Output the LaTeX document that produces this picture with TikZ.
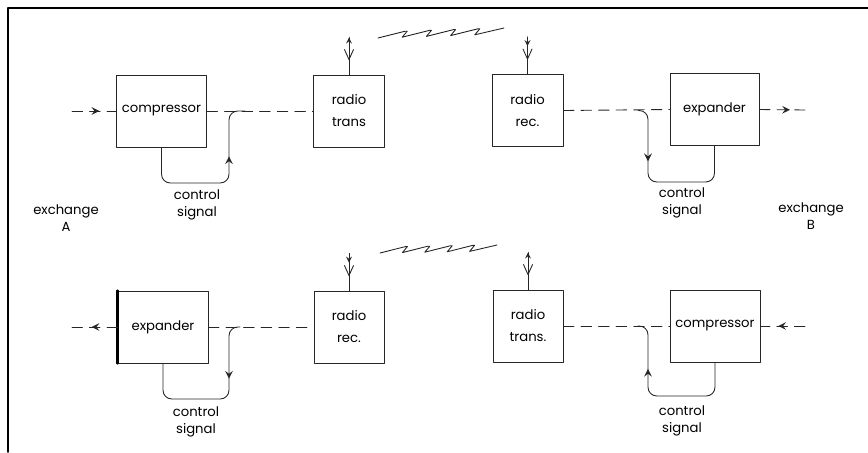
\documentclass[tikz,border=0pt]{standalone}
\usepackage{fontspec}
\newfontfamily\diafont{Poppins}
\usetikzlibrary{decorations.markings}
\tikzset{
	blk/.style={draw,inner sep=0pt,minimum height=14.4mm,align=center,font=\diafont\fontsize{7.5}{12.5}\selectfont},
	lbl/.style={align=center,font=\diafont\fontsize{7.5}{10}\selectfont},
	sig/.style={dash pattern=on 6pt off 4pt},
	midarrow/.style={postaction=decorate,decoration={markings,mark=at position #1 with {\arrow[scale=1.3]{stealth}}}},
}
\begin{document}
\begin{tikzpicture}[x=0.2mm,y=-0.2mm,>=stealth,line join=round,line cap=round,line width=0.5pt,draw=black!85]
				\useasboundingbox (0,0) rectangle (868,452);
				\draw[line width=1.1pt,black] (8,452)--(8,8)--(868,8);
				\node[blk,minimum width=18mm] (comA) at (161.5,111) {compressor};
				\node[blk,minimum width=14.2mm] (txA) at (349,111) {radio\\trans};
				\node[blk,minimum width=14.2mm] (rxB) at (527.5,110.5) {radio\\rec.};
				\node[blk,minimum width=17.8mm] (expB) at (714.5,109.5) {expander};
				\node[blk,minimum width=18mm] (expA) at (163,327) {expander};
				\node[blk,minimum width=14mm] (rxA) at (349,327) {radio\\rec.};
				\node[blk,minimum width=14mm] (txB) at (528,326) {radio\\trans.};
				\node[blk,minimum width=18mm] (comB) at (715,326) {compressor};
				\draw[line width=1.4pt,black] (expA.north west)--(expA.south west);
				\path
				(72,111) coordinate (inA)
				(805,110) coordinate (outB)
				(72,327) coordinate (outA)
				(805,326) coordinate (inB)
				(229,111) coordinate (jA) (245,111) coordinate (jAe) (229,183) coordinate (cA)
				(648,110.5) coordinate (jB) (638,110.5) coordinate (jBe) (648,182) coordinate (cB)
				(229,327) coordinate (jC) (240,327) coordinate (jCe) (229,399) coordinate (cC)
				(648,326) coordinate (jD) (638,326) coordinate (jDe) (648,396) coordinate (cD)
				(378,38) coordinate (zzA) (504,28) coordinate (zzB)
				(380,253) coordinate (zzC) (497,245) coordinate (zzD)
				;
				\draw[sig,midarrow=0.62] (inA)--(comA.west);
				\draw[sig] (comA.east)--(txA.west);
				\draw[sig] (rxB.east)--(expB.west);
				\draw[sig,midarrow=0.67] (expB.east)--(outB);
				\draw[sig,midarrow=0.57] (expA.west)--(outA);
				\draw[sig] (expA.east)--(rxA.west);
				\draw[sig] (txB.east)--(comB.west);
				\draw[sig,midarrow=0.6] (inB)--(comB.east);
				\draw[rounded corners=5pt,midarrow=0.68] (comA.south)|-(cA)--(jA)--(jAe);
				\draw[rounded corners=5pt,midarrow=0.33] (jBe)--(jB)--(cB)-|(expB.south);
				\draw[rounded corners=5pt,midarrow=0.34] (jCe)--(jC)--(cC)-|(expA.south);
				\draw[rounded corners=5pt,midarrow=0.71] (comB.south)|-(cD)--(jD)--(jDe);
				\foreach \b in {txA,rxB,rxA,txB}{
					\draw (\b.north)--++(0,-37) coordinate (\b-ant);
					\draw (\b-ant) ++(-4.5,12)--++(4.5,10)--++(4.5,-10);
				}
				\draw[-{stealth[scale=1.3]}] (txA.north)--(txA-ant);
				\draw[-{stealth[scale=1.3]}] (txB.north)--(txB-ant);
				\draw[-{stealth[scale=1.3]}] (rxB-ant)--++(0,9);
				\draw[-{stealth[scale=1.3]}] (rxA-ant)--++(0,9);
				\draw (zzA) \foreach \i in {1,...,4}{--++(27.2,-6.8)--++(2,0)--++(-5,6)}--(zzB);
				\draw (zzC) \foreach \i in {1,...,4}{--++(25.4,-6.4)--++(2,0)--++(-5,6)}--(zzD);
				\node[lbl] (csA) at (197,205) {control\\signal};
				\node[lbl] (csB) at (682,203) {control\\signal};
				\node[lbl] (csC) at (196,422) {control\\signal};
				\node[lbl] (csD) at (682,421) {control\\signal};
				\node[lbl] (exA) at (66,218) {exchange\\A};
				\node[lbl] (exB) at (811,216) {exchange\\B};
			\end{tikzpicture}
\end{document}
